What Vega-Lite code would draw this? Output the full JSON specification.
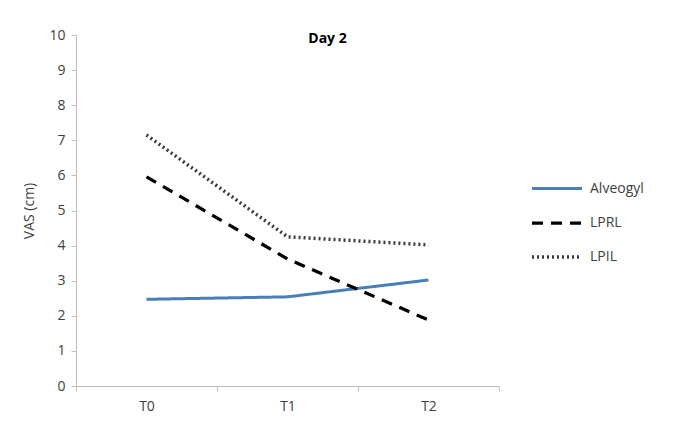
{
  "$schema": "https://vega.github.io/schema/vega-lite/v6.json",
  "width": 423,
  "height": 351,
  "autosize": "none",
  "padding": {"left": 76, "top": 35, "right": 176, "bottom": 43},
  "background": "white",
  "config": {"view": {"stroke": null}, "font": "Open Sans"},
  "title": {"text": "Day 2", "fontSize": 14, "fontWeight": "bold", "font": "Open Sans", "color": "#000000", "anchor": "middle", "offset": -18, "dx": 40},
  "data": {"values": [
    {"t": "T0", "series": "Alveogyl", "v": 2.47},
    {"t": "T1", "series": "Alveogyl", "v": 2.54},
    {"t": "T2", "series": "Alveogyl", "v": 3.02},
    {"t": "T0", "series": "LPRL", "v": 5.96},
    {"t": "T1", "series": "LPRL", "v": 3.62},
    {"t": "T2", "series": "LPRL", "v": 1.88},
    {"t": "T0", "series": "LPIL", "v": 7.15},
    {"t": "T1", "series": "LPIL", "v": 4.25},
    {"t": "T2", "series": "LPIL", "v": 4.02}
  ]},
  "mark": {"type": "line"},
  "encoding": {
    "x": {"field": "t", "type": "nominal", "title": null,
      "axis": {"labelAngle": 0, "labelFontSize": 14, "labelColor": "#404040", "domainColor": "#bfbfbf", "tickColor": "#bfbfbf", "tickBand": "extent", "tickSize": 5, "labelPadding": 8}},
    "y": {"field": "v", "type": "quantitative", "title": "VAS (cm)",
      "scale": {"domain": [0, 10]},
      "axis": {"grid": false, "values": [0,1,2,3,4,5,6,7,8,9,10], "labelOverlap": false, "labelFontSize": 14, "labelColor": "#404040", "titleColor": "#404040", "titleFontSize": 14, "titleFontWeight": "normal", "domainColor": "#bfbfbf", "tickColor": "#bfbfbf", "tickSize": 5, "titlePadding": 12, "labelPadding": 6}},
    "color": {"field": "series", "type": "nominal", "sort": ["Alveogyl", "LPRL", "LPIL"],
      "scale": {"domain": ["Alveogyl", "LPRL", "LPIL"], "range": ["#4a7ebb", "#000000", "#3a3a3a"]},
      "legend": {"title": null, "orient": "none", "legendX": 454, "legendY": 127, "symbolType": "stroke", "symbolSize": 2500, "symbolStrokeWidth": 3, "labelFontSize": 14, "labelColor": "#404040", "rowPadding": -14, "labelOffset": 6}},
    "strokeDash": {"field": "series", "type": "nominal", "sort": ["Alveogyl", "LPRL", "LPIL"],
      "scale": {"domain": ["Alveogyl", "LPRL", "LPIL"], "range": [[1, 0], [11, 8], [2, 3]]},
      "legend": null},
    "strokeWidth": {"field": "series", "type": "nominal",
      "scale": {"domain": ["Alveogyl", "LPRL", "LPIL"], "range": [3, 3.5, 2]},
      "legend": null}
  }
}
